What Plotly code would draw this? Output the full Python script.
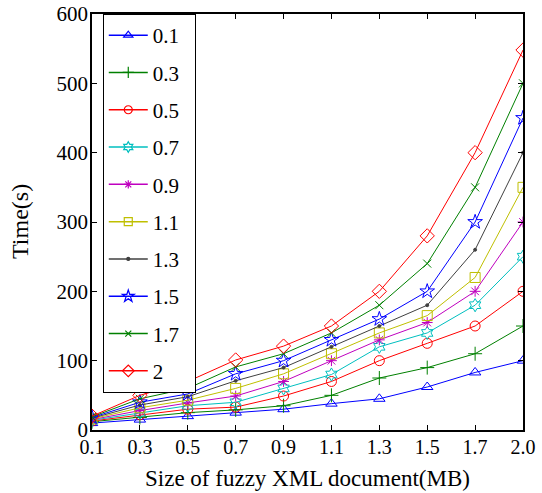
import plotly.graph_objects as go

sizes = ["0.1", "0.3", "0.5", "0.7", "0.9", "1.1", "1.3", "1.5", "1.7", "2.0"]
series_names = ["0.1", "0.3", "0.5", "0.7", "0.9", "1.1", "1.3", "1.5", "1.7", "2"]

t_01 = [10, 15, 20, 25, 30, 38, 45, 62, 83, 100]
t_03 = [12, 18, 25, 29, 35, 50, 75, 90, 110, 150]
t_05 = [13, 22, 30, 33, 49, 70, 100, 125, 150, 200]
t_07 = [14, 25, 35, 40, 60, 80, 120, 140, 180, 250]
t_09 = [15, 28, 39, 49, 70, 100, 130, 155, 200, 300]
t_11 = [16, 32, 43, 60, 81, 110, 140, 165, 220, 350]
t_13 = [17, 36, 48, 71, 90, 120, 150, 180, 260, 400]
t_15 = [18, 40, 52, 81, 100, 130, 160, 200, 300, 450]
t_17 = [19, 45, 60, 91, 110, 140, 180, 240, 350, 500]
t_20 = [20, 50, 70, 101, 121, 150, 200, 280, 400, 548]

y_ticks = [0, 100, 200, 300, 400, 500, 600]

all_series = [t_01, t_03, t_05, t_07, t_09, t_11, t_13, t_15, t_17, t_20]
colors = ["#0000ff", "#008000", "#ff0000", "#00bfbf", "#bf00bf",
          "#bfbf00", "#404040", "#0000ff", "#008000", "#ff0000"]
symbols = ["triangle-up-open", "cross-thin-open", "circle-open", "hexagram-open",
           "asterisk-open", "square-open", "circle", "star-open", "x-thin-open",
           "diamond-open"]
msizes = [10, 10, 10, 10, 9, 10, 3, 11, 8, 11]
legend_msizes = [8, 8, 8, 8, 7, 8, 3, 9, 6, 9]

fig = go.Figure()
for name, vals, c, s, ms in zip(series_names, all_series, colors, symbols, msizes):
    fig.add_trace(go.Scatter(
        x=sizes, y=vals, name=name, showlegend=False,
        mode="lines+markers",
        line=dict(color=c, width=1),
        marker=dict(symbol=s, size=ms, color=c, line=dict(color=c, width=1)),
    ))
# legend entries (smaller symbols, like the reference legend)
for name, c, s, ms in zip(series_names, colors, symbols, legend_msizes):
    fig.add_trace(go.Scatter(
        x=[None], y=[None], name=name + "\u00a0\u00a0", legendgroup=name,
        showlegend=True, mode="lines+markers",
        line=dict(color=c, width=1.5),
        marker=dict(symbol=s, size=ms, color=c, line=dict(color=c, width=1.2)),
    ))

font_family = "Liberation Serif"
fig.update_layout(
    width=542, height=493,
    margin=dict(l=92, r=19, t=14, b=63),
    paper_bgcolor="white", plot_bgcolor="white",
    font=dict(family=font_family, size=20, color="black"),
    showlegend=True,
    legend=dict(
        x=0.025, y=1.0, xanchor="left", yanchor="top",
        bgcolor="white", bordercolor="black", borderwidth=1,
        font=dict(family=font_family, size=21, color="black"),
        tracegroupgap=7, itemwidth=39,
    ),
    annotations=[
        dict(text="Size of fuzzy XML document(MB)", xref="paper", yref="paper",
             x=0.5, y=0, yshift=-48, xanchor="center", yanchor="middle",
             showarrow=False, font=dict(size=23)),
        dict(text="Time(s)", xref="paper", yref="paper",
             x=0, y=0.5, xshift=-72, xanchor="center", yanchor="middle",
             textangle=-90, showarrow=False, font=dict(size=24)),
    ],
)
fig.update_xaxes(
    type="category", range=[0, 9], automargin=False,
    showline=True, linecolor="black", linewidth=1.5, mirror="ticks",
    ticks="inside", ticklen=5, tickcolor="black",
    showgrid=False, zeroline=False,
    tickfont=dict(size=20), ticklabeloverflow="allow", ticklabelstandoff=-2,
)
fig.update_yaxes(
    range=[0, 600], tickvals=y_ticks, automargin=False,
    showline=True, linecolor="black", linewidth=1.5, mirror="ticks",
    ticks="inside", ticklen=5, tickcolor="black",
    showgrid=False, zeroline=False,
    tickfont=dict(size=21), ticklabeloverflow="allow", ticklabelstandoff=-2,
)

fig.write_html("out.html", config={"displayModeBar": False},
               post_script="document.body.style.margin='0px';")
